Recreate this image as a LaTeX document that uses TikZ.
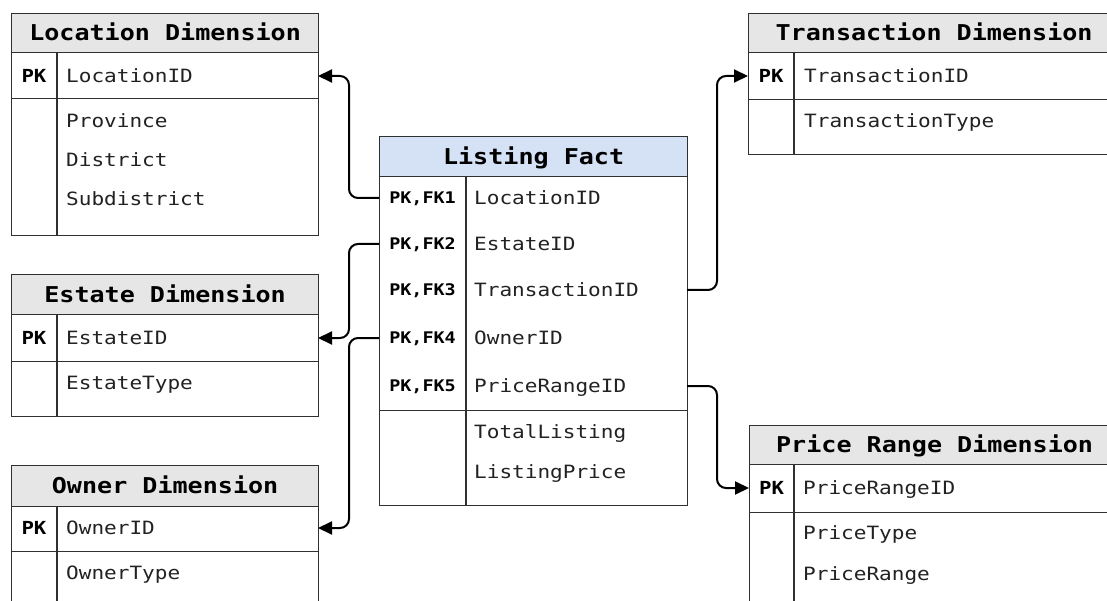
\documentclass[tikz,border=0pt]{standalone}
\usepackage{fontspec}
\usetikzlibrary{arrows.meta,calc}
\newfontfamily\erfont[FakeStretch=1.15]{DejaVu Sans Mono}
\definecolor{tline}{HTML}{303030}
\definecolor{dimfill}{HTML}{E6E6E6}
\definecolor{factfill}{HTML}{D5E1F4}
\definecolor{txt}{HTML}{222222}
\begin{document}
\begin{tikzpicture}[x=1pt,y=1pt,
  box/.style={draw=tline,line width=1.2pt,rectangle,inner sep=0pt,anchor=north west},
  dimtitle/.style={box,fill=dimfill,text=black,font=\erfont\bfseries\fontsize{21.8}{21.8}\selectfont,text height=15.5pt,text depth=0pt},
  facttitle/.style={box,fill=factfill,text=black,font=\erfont\bfseries\fontsize{21.8}{21.8}\selectfont,text height=15.5pt,text depth=0pt},
  field/.style={anchor=west,inner sep=0pt,text=txt,font=\erfont\fontsize{18.3}{18.3}\selectfont,text height=13.3pt,text depth=0pt},
  keylab/.style={inner sep=0pt,text=black,font=\erfont\bfseries\fontsize{18}{18}\selectfont,text height=13pt,text depth=0pt},
  fkeylab/.style={inner sep=0pt,text=black,font=\erfont\bfseries\fontsize{16}{16}\selectfont,text height=11.7pt,text depth=0pt},
  divider/.style={draw=tline,line width=1.2pt},
  conn/.style={draw=black,line width=2pt,rounded corners=9pt,-{Triangle[length=14pt,width=13pt]}}
]
\useasboundingbox (0,0) rectangle (1107,-601);
\clip (0,0) rectangle (1107,-601);
\fill[white] (0,0) rectangle (1107,-601);

% ---------- Location Dimension ----------
\node[dimtitle,minimum width=307pt,minimum height=39pt] (loct) at (11,-13) {Location Dimension};
\node[box,minimum width=307pt,minimum height=46pt] (locpkrow) at (11,-52) {};
\node[box,minimum width=307pt,minimum height=137pt] (locattr) at (11,-98) {};
\draw[divider] (57,-52) -- (57,-235);
\node[keylab] (lockey) at (34,-76) {PK};
\node[field] (locid) at (66,-76) {LocationID};
\node[field] (locprov) at (66,-121) {Province};
\node[field] (locdist) at (66,-160) {District};
\node[field] (locsub) at (66,-199) {Subdistrict};
\coordinate (locpk) at (318,-76);

% ---------- Estate Dimension ----------
\node[dimtitle,minimum width=307pt,minimum height=40pt] (estt) at (11,-274) {Estate Dimension};
\node[box,minimum width=307pt,minimum height=47pt] (estpkrow) at (11,-314) {};
\node[box,minimum width=307pt,minimum height=55pt] (estattr) at (11,-361) {};
\draw[divider] (57,-314) -- (57,-416);
\node[keylab] (estkey) at (34,-338) {PK};
\node[field] (estid) at (66,-338) {EstateID};
\node[field] (esttype) at (66,-383) {EstateType};
\coordinate (estpk) at (318,-338);

% ---------- Owner Dimension ----------
\node[dimtitle,minimum width=307pt,minimum height=41pt] (ownt) at (11,-465) {Owner Dimension};
\node[box,minimum width=307pt,minimum height=45pt] (ownpkrow) at (11,-506) {};
\node[box,minimum width=307pt,minimum height=70pt] (ownattr) at (11,-551) {};
\draw[divider] (57,-506) -- (57,-621);
\node[keylab] (ownkey) at (34,-528) {PK};
\node[field] (ownid) at (66,-528) {OwnerID};
\node[field] (owntype) at (66,-573) {OwnerType};
\coordinate (ownpk) at (318,-528);

% ---------- Listing Fact ----------
\node[facttitle,minimum width=308pt,minimum height=40pt] (factt) at (379,-136) {Listing Fact};
\node[box,minimum width=308pt,minimum height=234pt] (factkeys) at (379,-176) {};
\node[box,minimum width=308pt,minimum height=95pt] (factattr) at (379,-410) {};
\draw[divider] (466,-176) -- (466,-505);
\node[fkeylab] (fk1) at (422.5,-198) {PK,FK1};
\node[fkeylab] (fk2) at (422.5,-244) {PK,FK2};
\node[fkeylab] (fk3) at (422.5,-290) {PK,FK3};
\node[fkeylab] (fk4) at (422.5,-338) {PK,FK4};
\node[fkeylab] (fk5) at (422.5,-386) {PK,FK5};
\node[field] (flocid) at (474,-198) {LocationID};
\node[field] (festid) at (474,-244) {EstateID};
\node[field] (ftrid) at (474,-290) {TransactionID};
\node[field] (fownid) at (474,-338) {OwnerID};
\node[field] (fprid) at (474,-386) {PriceRangeID};
\node[field] (ftotal) at (474,-432) {TotalListing};
\node[field] (fprice) at (474,-472) {ListingPrice};
\coordinate (factloc) at (379,-198);
\coordinate (factest) at (379,-244);
\coordinate (factown) at (379,-338);
\coordinate (facttr) at (687,-290);
\coordinate (factpr) at (687,-386);

% ---------- Transaction Dimension ----------
\node[dimtitle,minimum width=371pt,minimum height=39pt] (trt) at (748,-13) {Transaction Dimension};
\node[box,minimum width=371pt,minimum height=47pt] (trpkrow) at (748,-52) {};
\node[box,minimum width=371pt,minimum height=55pt] (trattr) at (748,-99) {};
\draw[divider] (794,-52) -- (794,-154);
\node[keylab] (trkey) at (771,-76) {PK};
\node[field] (trid) at (804,-76) {TransactionID};
\node[field] (trtype) at (804,-121) {TransactionType};
\coordinate (trpk) at (748,-76);

% ---------- Price Range Dimension ----------
\node[dimtitle,minimum width=370pt,minimum height=39pt] (prt) at (749,-425) {Price Range Dimension};
\node[box,minimum width=370pt,minimum height=48pt] (prpkrow) at (749,-464) {};
\node[box,minimum width=370pt,minimum height=110pt] (prattr) at (749,-512) {};
\draw[divider] (794,-464) -- (794,-622);
\node[keylab] (prkey) at (771.5,-488) {PK};
\node[field] (prid) at (803,-488) {PriceRangeID};
\node[field] (prtype) at (803,-533) {PriceType};
\node[field] (prrange) at (803,-574) {PriceRange};
\coordinate (prpk) at (749,-488);

% ---------- Connectors ----------
\draw[conn] (factloc) -| ($(locpk)+(31,0)$) -- (locpk);
\draw[conn] (factest) -| ($(estpk)+(31,0)$) -- (estpk);
\draw[conn] (factown) -| ($(ownpk)+(31,0)$) -- (ownpk);
\draw[conn] (facttr) -| ($(trpk)+(-31,0)$) -- (trpk);
\draw[conn] (factpr) -| ($(prpk)+(-32,0)$) -- (prpk);
\end{tikzpicture}
\end{document}
